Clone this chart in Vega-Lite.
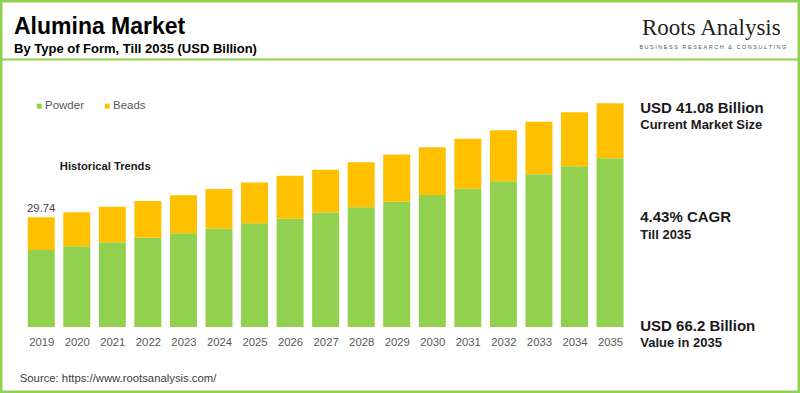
{
  "$schema": "https://vega.github.io/schema/vega-lite/v6.json",
  "width": 800,
  "height": 393,
  "autosize": {"type": "none"},
  "padding": 0,
  "background": "white",
  "title": {
    "text": "Alumina Market",
    "subtitle": "By Type of Form, Till 2035 (USD Billion)",
    "anchor": "start",
    "frame": "group",
    "orient": "top",
    "font": "Liberation Sans, Arial, sans-serif",
    "fontSize": 23,
    "fontWeight": "bold",
    "color": "#000000",
    "subtitleFont": "Liberation Sans, Arial, sans-serif",
    "subtitleFontSize": 13,
    "subtitleFontWeight": "bold",
    "subtitleColor": "#000000",
    "subtitlePadding": 4,
    "offset": 0,
    "dx": 14,
    "dy": 56
  },
  "data": {
    "values": [
      {"year": 2019, "form": "Powder", "value": 20.87}, {"year": 2019, "form": "Beads", "value": 8.87},
      {"year": 2020, "form": "Powder", "value": 21.88}, {"year": 2020, "form": "Beads", "value": 9.21},
      {"year": 2021, "form": "Powder", "value": 22.96}, {"year": 2021, "form": "Beads", "value": 9.65},
      {"year": 2022, "form": "Powder", "value": 24.21}, {"year": 2022, "form": "Beads", "value": 9.95},
      {"year": 2023, "form": "Powder", "value": 25.40}, {"year": 2023, "form": "Beads", "value": 10.30},
      {"year": 2024, "form": "Powder", "value": 26.65}, {"year": 2024, "form": "Beads", "value": 10.76},
      {"year": 2025, "form": "Powder", "value": 28.11}, {"year": 2025, "form": "Beads", "value": 11.06},
      {"year": 2026, "form": "Powder", "value": 29.36}, {"year": 2026, "form": "Beads", "value": 11.65},
      {"year": 2027, "form": "Powder", "value": 31.04}, {"year": 2027, "form": "Beads", "value": 11.60},
      {"year": 2028, "form": "Powder", "value": 32.45}, {"year": 2028, "form": "Beads", "value": 12.20},
      {"year": 2029, "form": "Powder", "value": 33.97}, {"year": 2029, "form": "Beads", "value": 12.79},
      {"year": 2030, "form": "Powder", "value": 35.78}, {"year": 2030, "form": "Beads", "value": 12.93},
      {"year": 2031, "form": "Powder", "value": 37.49}, {"year": 2031, "form": "Beads", "value": 13.55},
      {"year": 2032, "form": "Powder", "value": 39.50}, {"year": 2032, "form": "Beads", "value": 13.82},
      {"year": 2033, "form": "Powder", "value": 41.39}, {"year": 2033, "form": "Beads", "value": 14.26},
      {"year": 2034, "form": "Powder", "value": 43.56}, {"year": 2034, "form": "Beads", "value": 14.64},
      {"year": 2035, "form": "Powder", "value": 45.73}, {"year": 2035, "form": "Beads", "value": 14.91}
    ]
  },
  "layer": [
    {
      "mark": {"type": "bar", "width": 27},
      "encoding": {
        "x": {
          "field": "year",
          "type": "quantitative",
          "scale": {"domain": [2017.981, 2040.203], "nice": false, "zero": false},
          "axis": {
            "values": [2019, 2020, 2021, 2022, 2023, 2024, 2025, 2026, 2027, 2028, 2029, 2030, 2031, 2032, 2033, 2034, 2035],
            "format": "d",
            "title": null,
            "domain": false,
            "ticks": false,
            "grid": false,
            "labelFont": "Liberation Sans, Arial, sans-serif",
            "labelFontSize": 11.3,
            "labelColor": "#595959",
            "labelPadding": 9,
            "labelFlush": false,
            "labelOverlap": false,
            "offset": -66
          }
        },
        "y": {
          "field": "value",
          "type": "quantitative",
          "stack": "zero",
          "scale": {"domain": [-17.89, 88.64], "nice": false, "zero": false},
          "axis": {
            "values": [72.57],
            "title": null,
            "labels": false,
            "ticks": false,
            "domain": false,
            "grid": true,
            "gridColor": "#92D050",
            "gridWidth": 2,
            "gridOpacity": 1
          }
        },
        "color": {
          "field": "form",
          "type": "nominal",
          "scale": {"domain": ["Powder", "Beads"], "range": ["#92D050", "#FFC000"]},
          "legend": {
            "orient": "none",
            "legendX": 33.5,
            "legendY": 100,
            "direction": "horizontal",
            "title": null,
            "symbolType": "square",
            "symbolSize": 25,
            "symbolStrokeWidth": 0,
            "labelFont": "Liberation Sans, Arial, sans-serif",
            "labelFontSize": 11.5,
            "labelColor": "#595959",
            "labelOffset": 0,
            "columnPadding": 17,
            "padding": 0
          }
        },
        "order": {"field": "form", "type": "nominal", "sort": "descending"}
      }
    },
    {
      "transform": [
        {"filter": "datum.year == 2019"},
        {"aggregate": [{"op": "sum", "field": "value", "as": "total"}], "groupby": ["year"]}
      ],
      "mark": {"type": "text", "align": "center", "baseline": "alphabetic", "dy": -5, "fontSize": 11.3, "color": "#404040", "font": "Liberation Sans, Arial, sans-serif"},
      "encoding": {
        "x": {"field": "year", "type": "quantitative"},
        "y": {"field": "total", "type": "quantitative"},
        "text": {"field": "total", "type": "quantitative", "format": ".2f"}
      }
    },
    {
      "data": {"values": [{"label": "Historical Trends"}]},
      "mark": {"type": "text", "align": "center", "baseline": "alphabetic", "fontSize": 11.2, "fontWeight": "bold", "color": "#1a1a1a", "font": "Liberation Sans, Arial, sans-serif"},
      "encoding": {
        "x": {"datum": 2020.8},
        "y": {"datum": 42.69},
        "text": {"field": "label", "type": "nominal"}
      }
    },
    {
      "data": {"values": [{"label": "USD 41.08 Billion"}]},
      "mark": {"type": "text", "align": "left", "baseline": "alphabetic", "fontSize": 15, "fontWeight": "bold", "color": "#1a1a1a", "font": "Liberation Sans, Arial, sans-serif"},
      "encoding": {
        "x": {"datum": 2035.85},
        "y": {"datum": 57.88},
        "text": {"field": "label", "type": "nominal"}
      }
    },
    {
      "data": {"values": [{"label": "Current Market Size"}]},
      "mark": {"type": "text", "align": "left", "baseline": "alphabetic", "fontSize": 13, "fontWeight": "bold", "color": "#1a1a1a", "font": "Liberation Sans, Arial, sans-serif"},
      "encoding": {
        "x": {"datum": 2035.85},
        "y": {"datum": 53.57},
        "text": {"field": "label", "type": "nominal"}
      }
    },
    {
      "data": {"values": [{"label": "4.43% CAGR"}]},
      "mark": {"type": "text", "align": "left", "baseline": "alphabetic", "fontSize": 15, "fontWeight": "bold", "color": "#1a1a1a", "font": "Liberation Sans, Arial, sans-serif"},
      "encoding": {
        "x": {"datum": 2035.85},
        "y": {"datum": 28.54},
        "text": {"field": "label", "type": "nominal"}
      }
    },
    {
      "data": {"values": [{"label": "Till 2035"}]},
      "mark": {"type": "text", "align": "left", "baseline": "alphabetic", "fontSize": 13, "fontWeight": "bold", "color": "#1a1a1a", "font": "Liberation Sans, Arial, sans-serif"},
      "encoding": {
        "x": {"datum": 2035.85},
        "y": {"datum": 23.99},
        "text": {"field": "label", "type": "nominal"}
      }
    },
    {
      "data": {"values": [{"label": "USD 66.2 Billion"}]},
      "mark": {"type": "text", "align": "left", "baseline": "alphabetic", "fontSize": 15, "fontWeight": "bold", "color": "#1a1a1a", "font": "Liberation Sans, Arial, sans-serif"},
      "encoding": {
        "x": {"datum": 2035.85},
        "y": {"datum": -1.0},
        "text": {"field": "label", "type": "nominal"}
      }
    },
    {
      "data": {"values": [{"label": "Value in 2035"}]},
      "mark": {"type": "text", "align": "left", "baseline": "alphabetic", "fontSize": 13, "fontWeight": "bold", "color": "#1a1a1a", "font": "Liberation Sans, Arial, sans-serif"},
      "encoding": {
        "x": {"datum": 2035.85},
        "y": {"datum": -5.34},
        "text": {"field": "label", "type": "nominal"}
      }
    },
    {
      "data": {"values": [{"label": "Source: https://www.rootsanalysis.com/"}]},
      "mark": {"type": "text", "align": "left", "baseline": "alphabetic", "fontSize": 11.3, "color": "#404040", "font": "Liberation Sans, Arial, sans-serif"},
      "encoding": {
        "x": {"datum": 2018.397},
        "y": {"datum": -14.83},
        "text": {"field": "label", "type": "nominal"}
      }
    },
    {
      "data": {"values": [{"label": "Roots Analysis"}]},
      "mark": {"type": "text", "align": "left", "baseline": "alphabetic", "fontSize": 23, "color": "#231F20", "font": "Liberation Serif, Times New Roman, serif"},
      "encoding": {
        "x": {"datum": 2035.9},
        "y": {"datum": 79.15},
        "text": {"field": "label", "type": "nominal"}
      }
    },
    {
      "data": {"values": [{"label": "B\u00a0U\u00a0S\u00a0I\u00a0N\u00a0E\u00a0S\u00a0S\u00a0\u00a0\u00a0R\u00a0E\u00a0S\u00a0E\u00a0A\u00a0R\u00a0C\u00a0H\u00a0\u00a0\u00a0&\u00a0\u00a0\u00a0C\u00a0O\u00a0N\u00a0S\u00a0U\u00a0L\u00a0T\u00a0I\u00a0N\u00a0G"}]},
      "mark": {"type": "text", "align": "center", "baseline": "middle", "fontSize": 5.5, "color": "#555555", "font": "Liberation Sans, Arial, sans-serif"},
      "encoding": {
        "x": {"datum": 2037.893},
        "y": {"datum": 75.98},
        "text": {"field": "label", "type": "nominal"}
      }
    }
  ],
  "config": {
    "view": {"stroke": "#92D050", "strokeWidth": 5}
  }
}
